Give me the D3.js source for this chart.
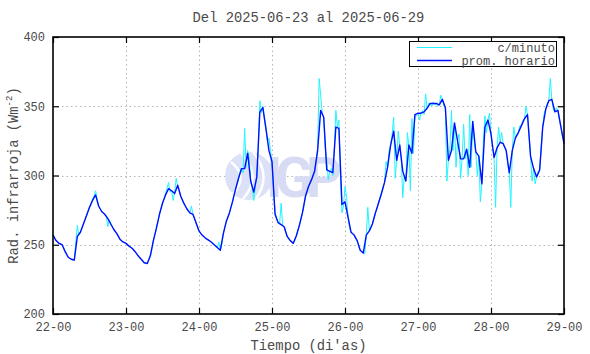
<!DOCTYPE html>
<html>
<head>
<meta charset="utf-8">
<script src="https://cdn.jsdelivr.net/npm/d3@7/dist/d3.min.js"></script>
<style>
  body { margin: 0; background: #fff; }
  svg text { font-family: "Liberation Mono", "DejaVu Sans Mono", monospace; fill: #4a4a4a; }
</style>
</head>
<body>
<div id="chart"></div>
<script>
// hourly means, one per hour from 22-00 to 29-00
const hourly = [
  257, 253, 251, 250, 245, 241, 239.5, 239, 256, 259, 265, 271, 277, 282, 286, 278, 274, 272, 269, 265, 261, 258, 254, 252,
  251, 249, 247.5, 245, 242, 239.5, 237, 236.5, 242, 253, 262, 272, 280, 286, 290.5, 289, 287, 293, 285, 280, 276, 273, 272, 266,
  260, 257, 255, 253.5, 252, 250, 248, 246, 258, 267, 273, 281, 290, 298, 305, 305, 316, 296, 288, 299, 346, 349, 334, 318,
  310, 272, 266, 264.5, 263, 256, 253, 251, 256.5, 264, 273, 285, 292, 297, 303, 318, 347, 342, 304, 303, 302, 335, 334, 279,
  281, 270, 259, 257, 253, 246, 244, 257, 260, 265, 273, 280, 287, 295, 306, 322, 332, 311, 322, 303, 296, 322, 316, 344,
  345, 345, 346, 348.5, 352, 352, 352, 351, 355, 349, 311, 318, 338, 325, 312, 312, 319, 306, 339, 317, 314, 294, 335, 340,
  330, 313, 320, 324, 323, 318, 302, 318, 327, 331, 336, 341, 344, 314, 305, 299, 304, 335, 348, 354, 355, 346, 347, 335,
  323
]

// minute data, read every half hour
const perMinute = [
  258, 255, 253, 252, 251, 250.5, 250, 248, 245, 243, 241, 240, 239.5, 239, 239, 252, 264, 257, 259, 262, 265, 268, 271, 274,
  277, 280, 283, 285, 289, 283, 278, 276, 274, 273, 272, 271, 263, 268, 265, 263, 261, 259, 258, 256, 254, 253, 252, 251.5,
  251, 250, 249, 248, 247.5, 246, 245, 243.5, 242, 240.5, 239.5, 238, 237, 236.5, 236.5, 239, 242, 247, 253, 257, 262, 267,
  272, 276, 280, 283, 287, 291, 295, 288, 289, 282, 288, 298, 292, 289, 285, 283, 280, 278, 276, 274, 273, 278, 272, 269, 266, 263,
  260, 258, 257, 256, 255, 254, 253.5, 253, 252, 251, 250, 249, 248, 252, 246, 250, 258, 263, 267, 270, 273, 277, 281, 286,
  290, 294, 298, 303, 305, 302, 334, 306, 318, 312, 296, 291, 282, 292, 299, 320, 354, 345, 350, 340, 334, 325, 327, 318,
  310, 290, 274, 269, 266, 265, 280, 264, 263, 259, 256, 254, 253, 252, 251, 253, 256.5, 260, 264, 268, 273, 278, 285, 288,
  292, 294, 297, 300, 303, 310, 320, 370, 358, 345, 342, 320, 311, 297, 303, 305, 300, 320, 347, 335, 340, 300, 273, 278,
  292, 285, 270, 262, 259, 258, 257, 255, 253, 249, 246, 245, 244, 243.5, 257, 277, 260, 262, 265, 269, 273, 276, 280, 284,
  288, 292, 295, 310, 306, 318, 322, 330, 342, 298, 311, 332, 322, 312, 284, 300, 296, 331, 322, 289, 341, 316, 344, 343,
  345, 340, 345, 347, 344, 359, 348, 352, 352, 350, 353, 351, 352, 350, 351, 358, 355, 350, 349, 296, 311, 320, 347, 318,
  338, 306, 325, 330, 298, 312, 337, 312, 319, 300, 344, 306, 339, 325, 317, 300, 314, 281, 294, 325, 343, 331, 340, 345,
  330, 320, 313, 277, 320, 335, 324, 331, 323, 320, 318, 308, 302, 277, 318, 335, 327, 330, 331, 336, 336, 340, 341, 350,
  344, 330, 314, 296, 305, 294, 299, 303, 304, 320, 335, 345, 348, 352, 354, 370, 355, 348, 346, 349, 347, 340, 335, 328,
  324
]

const dayTicks = [0, 24, 48, 72, 96, 120, 144, 168]
const dayLabels = ['22-00', '23-00', '24-00', '25-00', '26-00', '27-00', '28-00', '29-00']
const valueTicks = [200, 250, 300, 350, 400]

const width = 590
const height = 354
const margin = { top: 37, right: 26, bottom: 40, left: 53 }

const svg = d3.select('#chart').append('svg')
  .attr('width', width)
  .attr('height', height)

const x = d3.scaleLinear()
  .domain([0, 168])
  .range([margin.left, width - margin.right])

const y = d3.scaleLinear()
  .domain([200, 400])
  .range([height - margin.bottom, margin.top])

const x0 = x.range()[0], x1 = x.range()[1]
const y0 = y.range()[0], y1 = y.range()[1]

// Grid
const grid = svg.append('g')
  .attr('stroke', '#b4b4b4')
  .attr('stroke-width', 1)
  .attr('stroke-dasharray', '1.5,3')
grid.selectAll('.gx')
  .data(dayTicks.slice(1, -1))
  .join('line')
  .attr('x1', d => Math.round(x(d)) + 0.5).attr('x2', d => Math.round(x(d)) + 0.5)
  .attr('y1', y1).attr('y2', y0)
grid.selectAll('.gy')
  .data(valueTicks.slice(1, -1))
  .join('line')
  .attr('x1', x0).attr('x2', x1)
  .attr('y1', d => Math.round(y(d)) + 0.5).attr('y2', d => Math.round(y(d)) + 0.5)

// IGP watermark
const mark = svg.append('g')
mark.append('circle')
  .attr('cx', 249).attr('cy', 176).attr('r', 24)
  .attr('fill', '#dce1f7')
mark.append('path')
  .attr('d', 'M231,162 Q249,176 233,194 M241,153 Q263,176 243,199 M253,152 Q273,176 255,200')
  .attr('fill', 'none').attr('stroke', '#fff').attr('stroke-width', 2.5)
mark.append('text')
  .attr('x', 266).attr('y', 197)
  .attr('textLength', 76)
  .style('font-family', 'Roboto, "Liberation Sans", sans-serif')
  .style('font-weight', 'bold')
  .style('font-size', '56px')
  .style('fill', '#d8dbf4')
  .text('IGP')

// Series
const line = d3.line()
  .x(d => x(d[0]))
  .y(d => y(d[1]))

svg.append('path')
  .datum(perMinute.map((v, i) => [i * 0.5, v]))
  .attr('fill', 'none')
  .attr('stroke', '#22f4ff')
  .attr('stroke-width', 1)
  .attr('d', line)

svg.append('path')
  .datum(hourly.map((v, i) => [i, v]))
  .attr('fill', 'none')
  .attr('stroke', '#0010ff')
  .attr('stroke-width', 1.4)
  .attr('stroke-linejoin', 'round')
  .attr('d', line)

// Axes, ticks pointing inward on all four sides
const bottomAxis = svg.append('g')
  .attr('transform', `translate(0,${y0})`)
  .call(d3.axisBottom(x).tickValues(dayTicks).tickFormat((d, i) => dayLabels[i]).tickSize(-6).tickPadding(8))
const topAxis = svg.append('g')
  .attr('transform', `translate(0,${y1})`)
  .call(d3.axisTop(x).tickValues(dayTicks).tickFormat('').tickSize(-6))
const leftAxis = svg.append('g')
  .attr('transform', `translate(${x0},0)`)
  .call(d3.axisLeft(y).tickValues(valueTicks).tickSize(-6).tickPadding(8))
const rightAxis = svg.append('g')
  .attr('transform', `translate(${x1},0)`)
  .call(d3.axisRight(y).tickValues(valueTicks).tickFormat('').tickSize(-6))

;[bottomAxis, topAxis, leftAxis, rightAxis].forEach(a => {
  a.select('.domain').remove()
  a.selectAll('line').attr('stroke', '#000').attr('stroke-width', 1.2)
  a.selectAll('text').style('font-size', '12px').style('fill', '#4a4a4a')
    .style('font-family', '"Liberation Mono", monospace')
})

svg.append('rect')
  .attr('x', x0).attr('y', y1)
  .attr('width', x1 - x0).attr('height', y0 - y1)
  .attr('fill', 'none')
  .attr('stroke', '#000')
  .attr('stroke-width', 1.6)

// Legend
const legend = svg.append('g')
legend.append('rect')
  .attr('x', 409.5).attr('y', 41.5)
  .attr('width', 147).attr('height', 25)
  .attr('fill', '#fff').attr('stroke', '#000').attr('stroke-width', 1)
const legendItems = [
  { label: 'c/minuto', color: '#22f4ff', w: 1 },
  { label: 'prom. horario', color: '#0010ff', w: 1.4 }
]
legendItems.forEach((d, i) => {
  let ly = 47.5 + i * 13
  legend.append('line')
    .attr('x1', 417).attr('x2', 452)
    .attr('y1', ly).attr('y2', ly)
    .attr('stroke', d.color).attr('stroke-width', d.w)
  legend.append('text')
    .attr('x', 555).attr('y', ly + 4)
    .attr('text-anchor', 'end')
    .style('font-size', '12px')
    .text(d.label)
})

// Titles
svg.append('text')
  .attr('x', (x0 + x1) / 2).attr('y', 22)
  .attr('text-anchor', 'middle')
  .style('font-size', '13.8px')
  .text('Del 2025-06-23 al 2025-06-29')

svg.append('text')
  .attr('x', (x0 + x1) / 2).attr('y', 350)
  .attr('text-anchor', 'middle')
  .style('font-size', '13.8px')
  .text('Tiempo (di\'as)')

const yTitle = svg.append('text')
  .attr('transform', `translate(18,${(y0 + y1) / 2}) rotate(-90)`)
  .attr('text-anchor', 'middle')
  .style('font-size', '13.8px')
yTitle.append('tspan').text('Rad. infrarroja (Wm')
yTitle.append('tspan').attr('dy', -6).style('font-size', '9px').text('-2')
yTitle.append('tspan').attr('dy', 6).text(')')
</script>
</body>
</html>
